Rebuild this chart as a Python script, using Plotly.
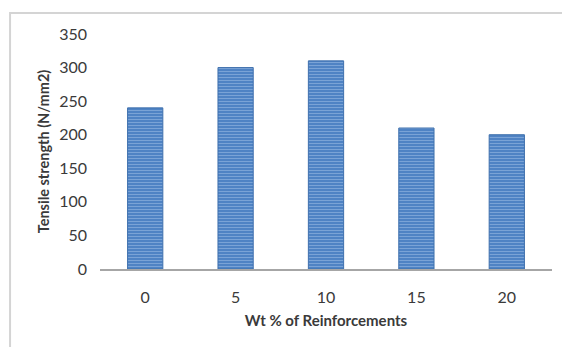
import plotly.graph_objects as go

# Tensile strength versus reinforcement content
wt_percent = ["0", "5", "10", "15", "20"]
tensile_strength = [240, 300, 310, 210, 200]
y_ticks = [0, 50, 100, 150, 200, 250, 300, 350]

font_family = "Lato, 'Open Sans', sans-serif"
text_color = "#3a3a3a"

fig = go.Figure(
    go.Bar(
        x=wt_percent,
        y=tensile_strength,
        width=0.39,
        marker=dict(
            color="#4f86c6",
            line=dict(color="#3f70ad", width=1),
            pattern=dict(
                shape="-",
                bgcolor="#4a80c2",
                fgcolor="#a9c6ea",
                size=3,
                solidity=0.4,
            ),
        ),
        hoverinfo="x+y",
    )
)

fig.update_layout(
    width=562,
    height=347,
    margin=dict(l=100, r=10, t=34, b=78),
    paper_bgcolor="white",
    plot_bgcolor="white",
    showlegend=False,
    font=dict(family=font_family, size=15, color=text_color),
    xaxis=dict(
        type="category",
        range=[-0.5, 4.5],
        showline=True,
        linecolor="#a6a6a6",
        linewidth=2,
        showgrid=False,
        ticks="",
        ticklabelstandoff=13,
        tickfont=dict(size=16, color=text_color),
        title=dict(
            text="<b>Wt % of Reinforcements</b>",
            font=dict(size=15, color=text_color),
            standoff=10,
        ),
    ),
    yaxis=dict(
        range=[0, 350],
        tickvals=y_ticks,
        showgrid=False,
        zeroline=False,
        showline=False,
        ticks="",
        ticklabelstandoff=12,
        tickfont=dict(size=16, color=text_color),
        title=dict(
            text="<b>Tensile strength (N/mm2)</b>",
            font=dict(size=14.5, color=text_color),
            standoff=6,
        ),
    ),
    shapes=[
        # outer chart frame (left and top edges)
        dict(
            type="path",
            xref="paper",
            yref="paper",
            path="M -0.199,-0.4 L -0.199,1.0894 L 1.05,1.0894",
            line=dict(color="#d4d4d4", width=2),
        )
    ],
)

fig.write_html("out.html")
